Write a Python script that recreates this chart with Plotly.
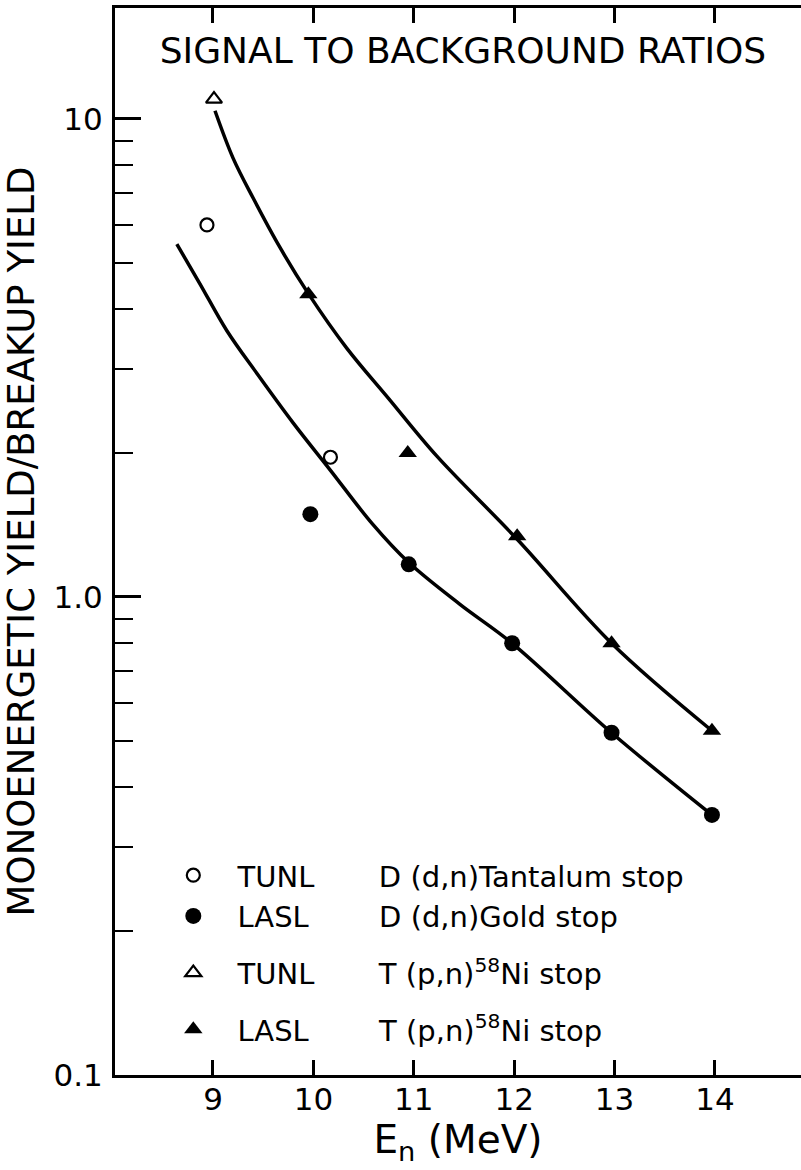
import plotly.graph_objects as go

# ---------------- data ----------------
# Smooth hand-drawn curves
upper_curve_E = [9.02, 9.20, 9.40, 9.67, 9.95, 10.33, 10.75, 11.23, 12.03, 12.97, 13.97]
upper_curve_y = [10.4, 8.28, 6.83, 5.37, 4.31, 3.32, 2.60, 1.97, 1.32, 0.80, 0.525]

lower_curve_E = [8.64, 8.87, 9.14, 9.44, 9.80, 10.17, 10.59, 10.95, 11.46, 11.98, 12.97, 13.97]
lower_curve_y = [5.47, 4.52, 3.60, 2.93, 2.31, 1.84, 1.42, 1.18, 0.965, 0.80, 0.52, 0.35]

# Measured points
tunl_dd_E = [8.94, 10.17]
tunl_dd_y = [6.0, 1.96]

lasl_dd_E = [9.97, 10.95, 11.98, 12.97, 13.97]
lasl_dd_y = [1.49, 1.17, 0.80, 0.52, 0.35]

tunl_pn_E = [9.01]
tunl_pn_y = [11.0]

lasl_pn_E = [9.95, 10.94, 12.03, 12.97, 13.97]
lasl_pn_y = [4.3, 2.0, 1.34, 0.80, 0.525]

x_tick_vals = [9, 10, 11, 12, 13, 14]
y_tick_vals = [0.1, 1, 10]
y_tick_text = ["0.1", "1.0", "10"]
y_minor_vals = [0.2, 0.3, 0.4, 0.5, 0.6, 0.7, 0.8, 0.9, 2, 3, 4, 5, 6, 7, 8, 9]
y_long_vals = [0.5, 5]

NB = "\u00a0"
TH = "\u2009"
legend_names = [
    NB * 2 + TH + "TUNL" + NB * 7 + "D (d,n)Tantalum stop",
    NB * 2 + TH + "LASL" + TH + NB * 7 + "D (d,n)Gold stop",
    NB * 2 + TH + "TUNL" + NB * 7 + "T (p,n)<sup>58</sup>Ni stop",
    NB * 2 + TH + "LASL" + TH + NB * 7 + "T (p,n)<sup>58</sup>Ni stop",
]

# ---------------- figure ----------------
FONT = "DejaVu Sans, Liberation Sans, Arial, sans-serif"
BLACK = "#000000"

fig = go.Figure()

fig.add_trace(go.Scatter(x=upper_curve_E, y=upper_curve_y, mode="lines",
                         line=dict(color=BLACK, width=3.5, shape="spline", smoothing=1.0),
                         showlegend=False, hoverinfo="skip"))
fig.add_trace(go.Scatter(x=lower_curve_E, y=lower_curve_y, mode="lines",
                         line=dict(color=BLACK, width=3.5, shape="spline", smoothing=1.0),
                         showlegend=False, hoverinfo="skip"))

fig.add_trace(go.Scatter(x=tunl_dd_E, y=tunl_dd_y, mode="markers", name=legend_names[0],
                         legendgroup="g1",
                         marker=dict(symbol="circle-open", size=13, color=BLACK,
                                     line=dict(width=2.2, color=BLACK))))
fig.add_trace(go.Scatter(x=lasl_dd_E, y=lasl_dd_y, mode="markers", name=legend_names[1],
                         legendgroup="g1",
                         marker=dict(symbol="circle", size=16, color=BLACK)))
fig.add_trace(go.Scatter(x=tunl_pn_E, y=tunl_pn_y, mode="markers", name=legend_names[2],
                         legendgroup="g2",
                         marker=dict(symbol="triangle-up-open", size=14, color=BLACK,
                                     line=dict(width=2.2, color=BLACK))))
fig.add_trace(go.Scatter(x=lasl_pn_E, y=lasl_pn_y, mode="markers", name=legend_names[3],
                         legendgroup="g3",
                         marker=dict(symbol="triangle-up", size=16, color=BLACK)))

fig.update_layout(
    width=801, height=1170,
    margin=dict(l=115, r=0, t=8, b=95),
    paper_bgcolor="white", plot_bgcolor="white",
    font=dict(family=FONT, color=BLACK, size=30),
    title=dict(text="SIGNAL TO BACKGROUND RATIOS", x=0.578, xanchor="center",
               y=1 - 50 / 1170, yanchor="middle",
               font=dict(family=FONT, size=36, color=BLACK)),
    showlegend=True,
    legend=dict(x=0.085, y=0.211, xanchor="left", yanchor="top",
                bgcolor="rgba(0,0,0,0)", borderwidth=0,
                font=dict(family=FONT, size=29, color=BLACK),
                tracegroupgap=16, itemsizing="trace"),
    xaxis=dict(
        range=[8.024, 14.857], tickvals=x_tick_vals,
        ticks="inside", ticklen=15, tickwidth=2.5, tickcolor=BLACK,
        showline=True, linewidth=3, linecolor=BLACK, mirror="ticks",
        showgrid=False, zeroline=False,
        ticklabelstandoff=-5,
        tickfont=dict(family=FONT, size=31, color=BLACK),
        title=dict(text="E<sub>n</sub> (MeV)", standoff=2,
                   font=dict(family=FONT, size=39, color=BLACK)),
    ),
    yaxis=dict(
        type="log", range=[-1, 1.232],
        tickvals=y_tick_vals, ticktext=y_tick_text,
        ticks="inside", ticklen=26, tickwidth=2.5, tickcolor=BLACK,
        showline=True, linewidth=3, linecolor=BLACK,
        showgrid=False, zeroline=False,
        ticklabelstandoff=3,
        tickfont=dict(family=FONT, size=31, color=BLACK),
        minor=dict(tickvals=y_minor_vals, ticks="inside", ticklen=18,
                   tickwidth=2.2, tickcolor=BLACK, showgrid=False),
        title=dict(text="MONOENERGETIC YIELD/BREAKUP YIELD", standoff=8,
                   font=dict(family=FONT, size=37, color=BLACK)),
    ),
    # extra-long inner ticks at 5 and 0.5 on the left
    yaxis3=dict(
        type="log", range=[-1, 1.232], overlaying="y", anchor="x", side="left",
        tickvals=y_long_vals, ticks="inside", ticklen=35, tickwidth=2.5,
        tickcolor=BLACK, showticklabels=False, showline=False,
        showgrid=False, zeroline=False,
    ),
    # right-hand inner ticks (frame line lies just outside the picture)
    yaxis2=dict(
        type="log", range=[-1, 1.232], overlaying="y", anchor="x", side="right",
        tickvals=[0.1, 0.5, 1, 5, 10], ticks="inside", ticklen=28, tickwidth=2.5,
        tickcolor=BLACK, showticklabels=False, showline=False,
        showgrid=False, zeroline=False,
        minor=dict(tickvals=y_minor_vals, ticks="inside", ticklen=14,
                   tickwidth=2.2, tickcolor=BLACK, showgrid=False),
    ),
)

fig.write_html("out.html")
